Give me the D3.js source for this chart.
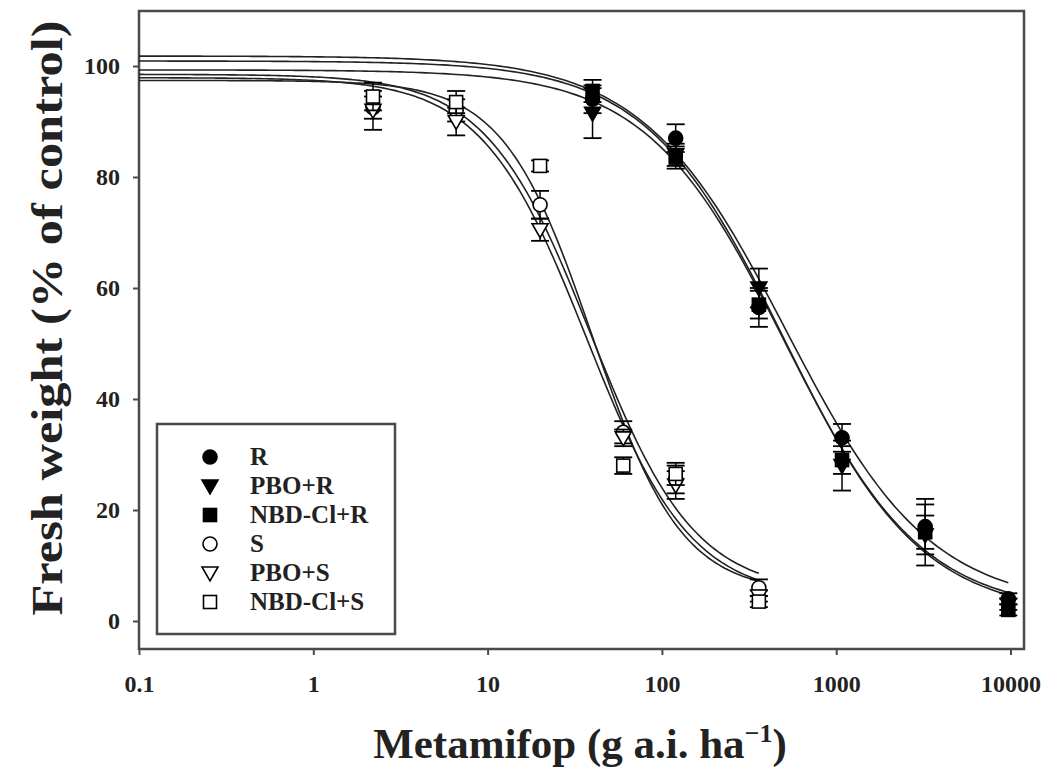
<!DOCTYPE html>
<html>
<head>
<meta charset="utf-8">
<script src="https://cdn.jsdelivr.net/npm/d3@7"></script>
<style>
body { margin: 0; background: #fff; }
text { font-family: "Liberation Serif", "Times New Roman", serif; font-weight: bold; fill: #222; }
</style>
</head>
<body>
<svg id="chart" width="1047" height="771"></svg>
<script>
// DATA
var sDoses = [2.2, 6.6, 20, 60, 120, 360];
var rDoses = [40, 120, 360, 1080, 3240, 9720];

var seriesNames = ['R', 'PBO+R', 'NBD-Cl+R', 'S', 'PBO+S', 'NBD-Cl+S'];

var rMean = [94, 87, 56.5, 33, 17, 4];
var rErr = [2.5, 2.5, 3.5, 2.5, 5, 1];
var pboRMean = [91.5, 84, 60, 28, 15.5, 3];
var pboRErr = [4.5, 2, 3.5, 4.5, 5.5, 1];
var nbdRMean = [95.5, 83.5, 57, 29, 16, 2];
var nbdRErr = [2, 2, 2.5, 2.5, 3, 1];
var sMean = [92.5, 92, 75, 34, 25.5, 6];
var sErr = [2, 2, 2.5, 2, 2.5, 1.5];
var pboSMean = [92, 90, 70.5, 33, 24.5, 4.5];
var pboSErr = [3.5, 2.5, 2, 1.5, 2.5, 1];
var nbdSMean = [94.5, 93.5, 82, 28, 26.5, 3.5];
var nbdSErr = [2.5, 2, 1, 1.5, 2, 1];

// fitted log-logistic curves: top, bottom, ED50, slope
var fitTop = [101.8, 100.9, 99.3, 98.5, 97.9, 97.4];
var fitBottom = [2.5, 1, 1.5, 5, 4, 5];
var fitED50 = [520, 500, 505, 39, 37, 40];
var fitSlope = [1.05, 1.1, 1.1, 1.45, 1.45, 1.7];

var xTicks = [0.1, 1, 10, 100, 1000, 10000];
var xTickLabels = ['0.1', '1', '10', '100', '1000', '10000'];
var yTicks = [0, 20, 40, 60, 80, 100];

var series = [
    {name: seriesNames[0], doses: rDoses, mean: rMean, err: rErr, shape: 'circle', filled: true},
    {name: seriesNames[1], doses: rDoses, mean: pboRMean, err: pboRErr, shape: 'triangle', filled: true},
    {name: seriesNames[2], doses: rDoses, mean: nbdRMean, err: nbdRErr, shape: 'square', filled: true},
    {name: seriesNames[3], doses: sDoses, mean: sMean, err: sErr, shape: 'circle', filled: false},
    {name: seriesNames[4], doses: sDoses, mean: pboSMean, err: pboSErr, shape: 'triangle', filled: false},
    {name: seriesNames[5], doses: sDoses, mean: nbdSMean, err: nbdSErr, shape: 'square', filled: false}
];

var svg = d3.select('#chart');

// plot frame (don't call it "top", that's window.top)
var plotLeft = 139, plotRight = 1024, plotTop = 11, plotBottom = 649;

var x = d3.scaleLog().domain([0.1, 10000]).range([plotLeft, 1010.5]);
var y = d3.scaleLinear().domain([0, 100]).range([621, 66]);

var frameColor = '#4a4a4a';

svg.append('rect')
    .attr('x', plotLeft).attr('y', plotTop)
    .attr('width', plotRight - plotLeft).attr('height', plotBottom - plotTop)
    .attr('fill', 'none').attr('stroke', frameColor).attr('stroke-width', 2.5);

// axes
var xAxis = d3.axisBottom(x).tickValues(xTicks)
    .tickFormat(function(d, i){ return xTickLabels[i]; })
    .tickSize(6).tickPadding(20);
var gx = svg.append('g').attr('transform', 'translate(0,' + plotBottom + ')').call(xAxis);
gx.select('.domain').remove();
gx.selectAll('line').attr('stroke', frameColor).attr('stroke-width', 2);
gx.selectAll('text').style('font-size', '24px').attr('fill', '#222');

var yAxis = d3.axisLeft(y).tickValues(yTicks).tickSize(6).tickPadding(13);
var gy = svg.append('g').attr('transform', 'translate(' + plotLeft + ',0)').call(yAxis);
gy.select('.domain').remove();
gy.selectAll('line').attr('stroke', frameColor).attr('stroke-width', 2);
gy.selectAll('text').style('font-size', '24px').attr('fill', '#222');

// curves
function fitValue(i, dose){
    return fitBottom[i] + (fitTop[i] - fitBottom[i]) / (1 + Math.pow(dose / fitED50[i], fitSlope[i]));
}

var line = d3.line().x(function(d){ return x(d[0]); }).y(function(d){ return y(d[1]); });

series.forEach(function(s, i){
    var lastDose = s.doses[s.doses.length - 1];
    var lo = Math.log10(0.1), hi = Math.log10(lastDose);
    var pts = d3.range(0, 201).map(function(k){
        var dose = Math.pow(10, lo + (hi - lo) * k / 200);
        return [dose, fitValue(i, dose)];
    });
    svg.append('path').attr('d', line(pts))
        .attr('fill', 'none').attr('stroke', '#222').attr('stroke-width', 1.6);
});

// markers
function drawMarker(g, shape, filled, cx, cy){
    var fill = filled ? '#000' : '#fff';
    if (shape === 'circle'){
        g.append('circle').attr('cx', cx).attr('cy', cy).attr('r', 7)
            .attr('fill', fill).attr('stroke', '#000').attr('stroke-width', 1.6);
    }
    else if (shape === 'square'){
        g.append('rect').attr('x', cx - 6.5).attr('y', cy - 6.5).attr('width', 13).attr('height', 13)
            .attr('fill', fill).attr('stroke', '#000').attr('stroke-width', 1.6);
    }
    else {
        g.append('path')
            .attr('d', 'M' + (cx - 8) + ',' + (cy - 6) + 'L' + (cx + 8) + ',' + (cy - 6) + 'L' + cx + ',' + (cy + 8) + 'Z')
            .attr('fill', fill).attr('stroke', '#000').attr('stroke-width', 1.6);
    }
}

series.forEach(function(s){
    var g = svg.append('g');
    s.doses.forEach(function(dose, j){
        var px = x(dose);
        var yHi = y(s.mean[j] + s.err[j]), yLo = y(s.mean[j] - s.err[j]);
        g.append('line').attr('x1', px).attr('x2', px).attr('y1', yHi).attr('y2', yLo)
            .attr('stroke', '#000').attr('stroke-width', 1.5);
        [yHi, yLo].forEach(function(cy){
            g.append('line').attr('x1', px - 9).attr('x2', px + 9).attr('y1', cy).attr('y2', cy)
                .attr('stroke', '#000').attr('stroke-width', 1.8);
        });
        drawMarker(g, s.shape, s.filled, px, y(s.mean[j]));
    });
});

// legend
var legend = svg.append('g');
legend.append('rect').attr('x', 157).attr('y', 424).attr('width', 238).attr('height', 210)
    .attr('fill', '#fff').attr('stroke', frameColor).attr('stroke-width', 2.5);
series.forEach(function(s, i){
    var ly = 457 + i * 29;
    drawMarker(legend, s.shape, s.filled, 210, ly);
    legend.append('text').attr('x', 250).attr('y', ly + 8).style('font-size', '25px').text(s.name);
});

// axis titles
var xTitle = svg.append('text').attr('x', 580).attr('y', 758)
    .attr('text-anchor', 'middle').style('font-size', '43px');
xTitle.append('tspan').text('Metamifop (g a.i. ha');
xTitle.append('tspan').attr('dy', -16).style('font-size', '26px').text('\u22121');
xTitle.append('tspan').attr('dy', 16).text(')');

svg.append('text')
    .attr('transform', 'translate(62,318) rotate(-90)')
    .attr('text-anchor', 'middle').style('font-size', '44px')
    .attr('textLength', 595).attr('lengthAdjust', 'spacingAndGlyphs')
    .text('Fresh weight (% of control)');
</script>
</body>
</html>
